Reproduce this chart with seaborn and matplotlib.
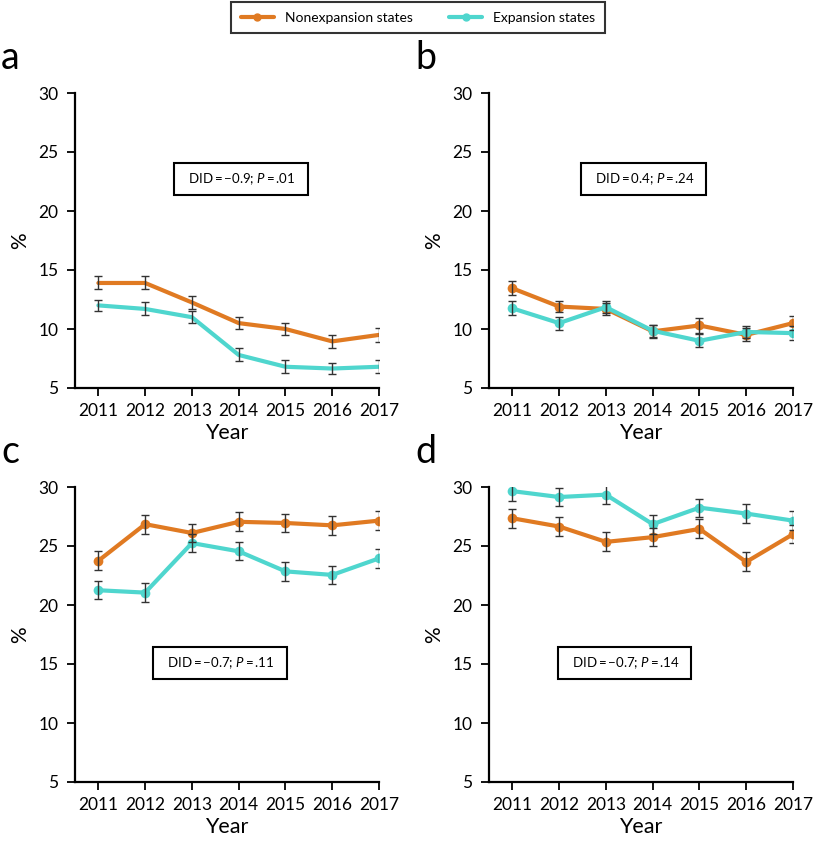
import numpy as np
import pandas as pd
import matplotlib
matplotlib.use("Agg")
import matplotlib.pyplot as plt
import seaborn as sns

# Data
years = [2011, 2012, 2013, 2014, 2015, 2016, 2017]

a_non = [13.9, 13.9, 12.25, 10.5, 10.0, 8.95, 9.5]
a_exp = [12.0, 11.7, 11.0, 7.8, 6.8, 6.65, 6.8]
a_non_err = [0.55, 0.55, 0.55, 0.5, 0.55, 0.55, 0.6]
a_exp_err = [0.5, 0.55, 0.5, 0.55, 0.55, 0.5, 0.55]

b_non = [13.45, 11.9, 11.7, 9.8, 10.3, 9.5, 10.5]
b_exp = [11.75, 10.5, 11.85, 9.85, 9.0, 9.75, 9.65]
b_non_err = [0.6, 0.5, 0.5, 0.55, 0.6, 0.55, 0.6]
b_exp_err = [0.6, 0.55, 0.5, 0.5, 0.55, 0.5, 0.6]

c_non = [23.75, 26.85, 26.1, 27.05, 26.95, 26.75, 27.15]
c_exp = [21.25, 21.05, 25.25, 24.55, 22.85, 22.55, 23.95]
c_non_err = [0.8, 0.8, 0.8, 0.8, 0.8, 0.8, 0.8]
c_exp_err = [0.75, 0.8, 0.8, 0.75, 0.8, 0.75, 0.8]

d_non = [27.35, 26.65, 25.35, 25.75, 26.45, 23.65, 26.0]
d_exp = [29.65, 29.15, 29.35, 26.85, 28.25, 27.75, 27.15]
d_non_err = [0.8, 0.8, 0.8, 0.75, 0.8, 0.8, 0.75]
d_exp_err = [0.8, 0.8, 0.8, 0.8, 0.75, 0.8, 0.8]

panel_letters = ["a", "b", "c", "d"]
did_texts = [("\u22120.9", ".01"), ("0.4", ".24"), ("\u22120.7", ".11"), ("\u22120.7", ".14")]
did_pos = [(2014.05, 22.7), (2013.8, 22.7), (2013.6, 15.1), (2013.4, 15.1)]

non_color = "#E07A22"
exp_color = "#4FD6CE"

sns.set_style("ticks")
plt.rcParams['font.family'] = ['Lato', 'DejaVu Sans']
plt.rcParams['text.color'] = 'black'
plt.rcParams['axes.labelcolor'] = 'black'
plt.rcParams['mathtext.fontset'] = 'custom'
plt.rcParams['mathtext.rm'] = 'Lato'
plt.rcParams['mathtext.it'] = 'Lato:italic'

fig = plt.figure(figsize=(8.14, 8.41), dpi=100)

W, H = 814, 841
# axes rectangles in pixel units (left spine x, top y)
boxes = [(75, 93), (489, 93), (75, 487), (489, 487)]
ax_w, ax_h = 304, 295

panels = [
    (a_non, a_exp, a_non_err, a_exp_err, False),
    (b_non, b_exp, b_non_err, b_exp_err, True),
    (c_non, c_exp, c_non_err, c_exp_err, True),
    (d_non, d_exp, d_non_err, d_exp_err, True),
]

for i, (non, exp, non_err, exp_err, show_marker) in enumerate(panels):
    x0, y0 = boxes[i]
    ax = fig.add_axes([x0 / W, 1 - (y0 + ax_h) / H, ax_w / W, ax_h / H])

    df = pd.DataFrame({
        "Year": years * 2,
        "value": non + exp,
        "group": ["Nonexpansion states"] * 7 + ["Expansion states"] * 7,
    })
    sns.lineplot(data=df, x="Year", y="value", hue="group",
                 palette={"Nonexpansion states": non_color, "Expansion states": exp_color},
                 hue_order=["Nonexpansion states", "Expansion states"],
                 marker="o" if show_marker else None, markersize=7,
                 markeredgewidth=0, linewidth=3, ax=ax, legend=False, zorder=2)

    ax.errorbar(years, non, yerr=non_err, fmt="none", ecolor="#333333",
                elinewidth=1, capsize=2.7, capthick=1, zorder=3)
    ax.errorbar(years, exp, yerr=exp_err, fmt="none", ecolor="#333333",
                elinewidth=1, capsize=2.7, capthick=1, zorder=3)

    ax.set_xlim(2010.5, 2017)
    ax.set_ylim(5, 30)
    ax.set_xticks(years)
    ax.set_yticks([5, 10, 15, 20, 25, 30])
    sns.despine(ax=ax)
    for s in ["left", "bottom"]:
        ax.spines[s].set_linewidth(1.6)
        ax.spines[s].set_color("black")
    ax.tick_params(axis="both", length=6, width=1.3, color="black",
                   labelsize=12.5, labelcolor="black")
    ax.tick_params(axis="y", pad=6)
    ax.tick_params(axis="x", pad=5)
    ax.set_xlabel("Year", fontsize=15.5, labelpad=3)
    ax.set_ylabel("%", fontsize=15, labelpad=6)

    did, p = did_texts[i]
    ax.text(did_pos[i][0], did_pos[i][1],
            "  DID$\\,$=$\\,$" + did + "; $\\it{P}$$\\,$=$\\,$" + p + "  ",
            ha="center", va="center", fontsize=9.5,
            bbox=dict(boxstyle="square,pad=0.6", facecolor="white",
                      edgecolor="black", linewidth=1.5))

    fig.text((x0 - 74) / W, 1 - (y0 - 35) / H, panel_letters[i],
             fontsize=27, ha="left", va="center")

# shared legend at the top
handles = [
    plt.Line2D([], [], color=non_color, marker="o", markersize=5, linewidth=3),
    plt.Line2D([], [], color=exp_color, marker="o", markersize=5, linewidth=3),
]
leg = fig.legend(handles, ["Nonexpansion states", "Expansion states"],
                 loc="center", bbox_to_anchor=(418 / W, 1 - 17.5 / H), ncol=2,
                 frameon=True, fancybox=False, fontsize=10, handlelength=2.4,
                 columnspacing=2.6, borderpad=0.65, handletextpad=0.8,
                 borderaxespad=0)
leg.get_frame().set_edgecolor("black")
leg.get_frame().set_linewidth(1.5)

fig.savefig("out.png", dpi=100)
